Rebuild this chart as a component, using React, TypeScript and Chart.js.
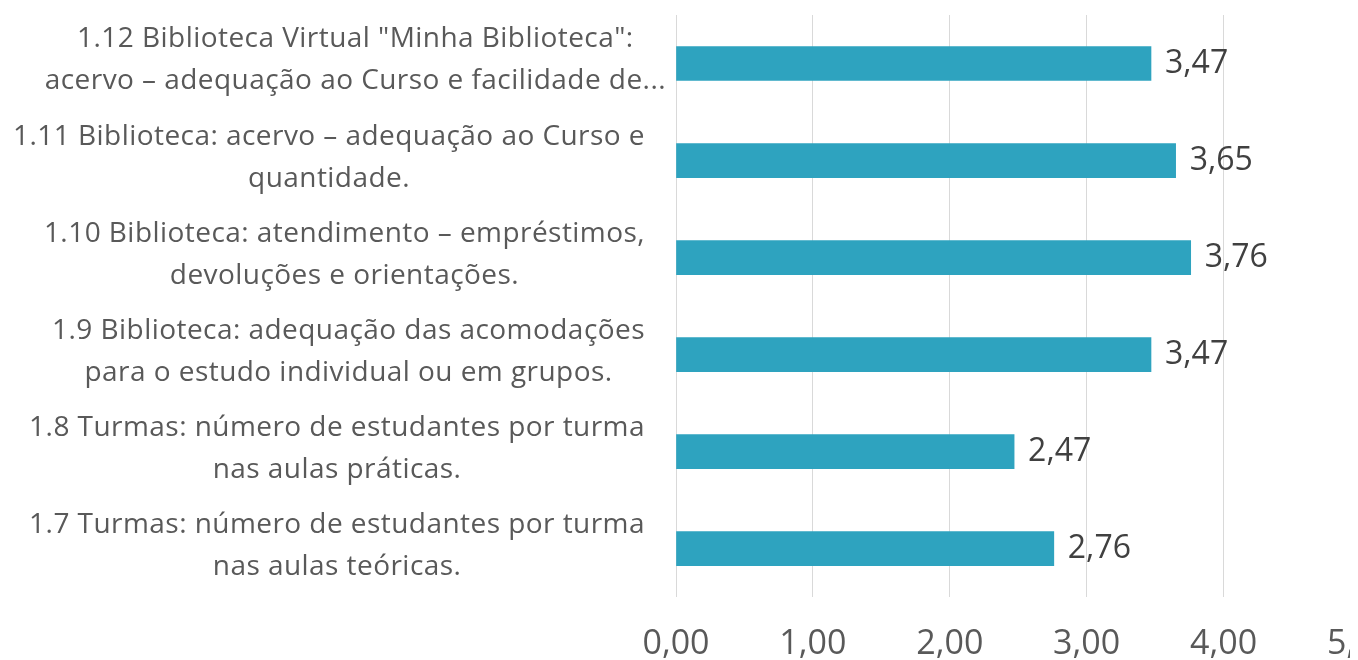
import React, { useEffect, useRef } from "react";
import { Chart, registerables } from "chart.js";

Chart.register(...registerables);

// ---- data ----
const categories: string[][] = [
  ['1.12 Biblioteca Virtual "Minha Biblioteca":', "acervo – adequação ao Curso e facilidade de..."],
  ["1.11 Biblioteca: acervo – adequação ao Curso e", "quantidade."],
  ["1.10 Biblioteca: atendimento – empréstimos,", "devoluções e orientações."],
  ["1.9 Biblioteca: adequação das acomodações", "para o estudo individual ou em grupos."],
  ["1.8 Turmas: número de estudantes por turma", "nas aulas práticas."],
  ["1.7 Turmas: número de estudantes por turma", "nas aulas teóricas."],
];
const values: number[] = [3.47, 3.65, 3.76, 3.47, 2.47, 2.76];
const xMin = 0;
const xMax = 5;
const xStep = 1;

// ---- styles ----
const FONT = '"Open Sans", "DejaVu Sans", sans-serif';
const BAR_COLOR = "#2ea3bf";
const LABEL_COLOR = "#595959";
const VALUE_COLOR = "#404040";
const GRID_COLOR = "#d9d9d9";
const Y_FONT_SIZE = 28;
const Y_LINE_H = 42;

const fmt = (v: number) => v.toFixed(2).replace(".", ",");

const yLabelPlugin = {
  id: "yLabelPlugin",
  afterDraw(chart: any) {
    const scale = chart.scales.y;
    const ctx = chart.ctx as any;
    ctx.save();
    ctx.font = `${Y_FONT_SIZE}px ${FONT}`;
    try {
      ctx.letterSpacing = "0.45px";
    } catch (e) {}
    ctx.fillStyle = LABEL_COLOR;
    ctx.textAlign = "center";
    ctx.textBaseline = "middle";
    categories.forEach((lines, i) => {
      const yc = scale.getPixelForValue(i);
      const w = Math.max(...lines.map((l) => ctx.measureText(l).width));
      const truncated = lines.some((l) => l.endsWith("..."));
      const right = scale.right - (truncated ? 10 : 31);
      const cx = right - w / 2;
      const n = lines.length;
      lines.forEach((l, j) => {
        const y = yc - 3 + (j - (n - 1) / 2) * Y_LINE_H;
        ctx.fillText(l, cx, y);
      });
    });
    ctx.restore();
  },
};

const valueLabelPlugin = {
  id: "valueLabelPlugin",
  afterDatasetsDraw(chart: any) {
    const ctx = chart.ctx as CanvasRenderingContext2D;
    const meta = chart.getDatasetMeta(0);
    ctx.save();
    ctx.font = `32px ${FONT}`;
    ctx.fillStyle = VALUE_COLOR;
    ctx.textAlign = "left";
    ctx.textBaseline = "middle";
    meta.data.forEach((bar: any, i: number) => {
      ctx.fillText(fmt(values[i]), bar.x + 14, bar.y);
    });
    ctx.restore();
  },
};

export default function App() {
  const ref = useRef<HTMLCanvasElement | null>(null);
  useEffect(() => {
    document.documentElement.style.overflow = "hidden";
    document.body.style.overflow = "hidden";
    if (!ref.current) return;
    const chart = new Chart(ref.current, {
      type: "bar",
      data: {
        labels: categories.map((c) => c.join(" ")),
        datasets: [
          {
            data: values,
            backgroundColor: BAR_COLOR,
            barThickness: 34,
          },
        ],
      },
      options: {
        indexAxis: "y",
        responsive: false,
        animation: false,
        layout: { padding: { top: 7, left: 0, right: 0, bottom: 4 } },
        plugins: { legend: { display: false }, tooltip: { enabled: false } },
        scales: {
          x: {
            min: xMin,
            max: xMax,
            border: { display: false },
            grid: { color: GRID_COLOR, drawTicks: false, lineWidth: 1 },
            ticks: {
              stepSize: xStep,
              padding: 27,
              color: LABEL_COLOR,
              font: { family: FONT, size: 34 },
              callback: (v: any) => fmt(Number(v)),
              maxRotation: 0,
            },
          },
          y: {
            border: { display: false },
            grid: { display: false, drawTicks: false },
            ticks: { display: false },
            afterFit: (scale: any) => {
              scale.width = 668;
            },
          },
        },
      },
      plugins: [yLabelPlugin, valueLabelPlugin],
    });
    return () => chart.destroy();
  }, []);
  return (
    <div style={{ width: 1350, height: 688, overflow: "hidden", position: "relative" }}>
      <canvas ref={ref} width={1413} height={688} style={{ display: "block" }} />
    </div>
  );
}
